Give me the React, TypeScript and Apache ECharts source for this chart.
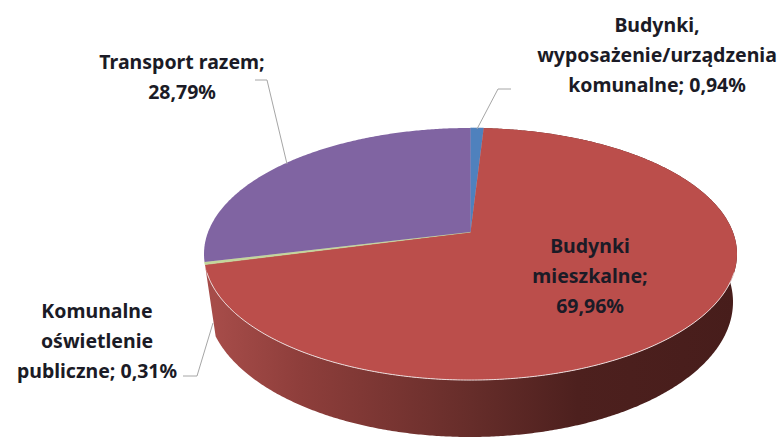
import React, { useEffect, useRef } from "react";
import * as echarts from "echarts";

const names = [
  "Budynki, wyposażenie/urządzenia komunalne",
  "Budynki mieszkalne",
  "Komunalne oświetlenie publiczne",
  "Transport razem",
];
const values = [0.94, 69.96, 0.31, 28.79];
const colors = ["#4f81bd", "#bb4e4b", "#c3d69b", "#8064a2"];
const labelTexts = [
  "Budynki,\nwyposażenie/urządzenia\nkomunalne; 0,94%",
  "Budynki\nmieszkalne;\n69,96%",
  "Komunalne\noświetlenie\npubliczne; 0,31%",
  "Transport razem;\n28,79%",
];

const total = values.reduce((a, b) => a + b, 0);
const startAngle = (i: number) =>
  (values.slice(0, i).reduce((a, b) => a + b, 0) / total) * Math.PI * 2;

// perspective view of the pie's top face
const CX = 470.5, CY = 232, K = 0.1746, A = 262.4, B = 122.2;
const topPoint = (t: number, r = 1) => {
  const u = Math.sin(t) * r, v = -Math.cos(t) * r;
  const d = 1 - K * v;
  return [CX + (A * u) / d, CY + (B * v) / d];
};
// lower rim of the pie's side
const LCX = 470, LCY = 302, LA = 263, LB = 135;
const lowPoint = (t: number) => [LCX + LA * Math.sin(t), LCY - LB * Math.cos(t)];

const arc = (f: (t: number) => number[], a: number, b: number) => {
  const n = Math.max(2, Math.ceil(((b - a) / Math.PI) * 360));
  const out: number[][] = [];
  for (let i = 0; i <= n; i++) out.push(f(a + ((b - a) * i) / n));
  return out;
};

const wallGradient = new echarts.graphic.LinearGradient(0, 0, 1, 0, [
  { offset: 0.02, color: "#a64c49" },
  { offset: 0.18, color: "#8e3e3b" },
  { offset: 0.5, color: "#662d2a" },
  { offset: 0.7, color: "#4d201e" },
  { offset: 1, color: "#471d1b" },
]);

const renderWall = (params: any) => {
  const i = params.dataIndex;
  if (i !== 1) return { type: "group", children: [] };
  const a = startAngle(i), b = startAngle(i + 1);
  const points = [...arc(lowPoint, a, b), ...arc(topPoint, a, b).reverse()];
  return { type: "polygon", shape: { points }, style: { fill: wallGradient } };
};

const renderFace = (params: any) => {
  const i = params.dataIndex;
  const a = startAngle(i), b = startAngle(i + 1);
  const points = [[CX, CY], ...arc(topPoint, a, b)];
  const children: any[] = [
    {
      type: "polygon",
      shape: { points },
      style: { fill: colors[i], stroke: i === 0 || i === 2 ? colors[i] : "none", lineWidth: 0.6 },
    },
  ];
  if (i === 1) {
    const rim = arc(topPoint, a, b).filter((p) => p[1] > 272);
    children.push({
      type: "polyline",
      shape: { points: rim },
      style: { fill: "none", stroke: "#ecdcdc", lineWidth: 1 },
    });
  }
  return { type: "group", children };
};

const text = (t: string, x: number, y: number) => ({
  type: "text",
  z: 10,
  x,
  y,
  style: {
    text: t,
    align: "center",
    verticalAlign: "middle",
    fontFamily: "Noto Sans",
    fontWeight: "bold",
    fontSize: 19.5,
    lineHeight: 30,
    fill: "#1b1b26",
  },
});
const leader = (points: number[][]) => ({
  type: "polyline",
  z: 9,
  shape: { points },
  style: { fill: "none", stroke: "#a6a6a6", lineWidth: 1 },
});

export default function App() {
  const ref = useRef<HTMLDivElement>(null);
  useEffect(() => {
    const chart = echarts.init(ref.current!, null, { renderer: "svg" });
    const data = values.map((v, i) => ({ name: names[i], value: v }));
    chart.setOption({
      animation: false,
      backgroundColor: "#ffffff",
      series: [
        { type: "custom", coordinateSystem: "none", silent: true, z: 1, data, renderItem: renderWall },
        { type: "custom", coordinateSystem: "none", silent: true, z: 2, data, renderItem: renderFace },
      ],
      graphic: [
        leader([[477, 129], [498, 89], [511, 89]]),
        leader([[287, 164], [267, 80], [255, 80]]),
        leader([[213, 323], [197, 376], [183, 376]]),
        text(labelTexts[0], 657, 54),
        text(labelTexts[1], 590, 275),
        text(labelTexts[2], 97, 340),
        text(labelTexts[3], 182, 76),
      ],
    });
    return () => chart.dispose();
  }, []);
  return <div ref={ref} style={{ position: "absolute", left: 0, top: 0, width: 784, height: 437 }} />;
}
